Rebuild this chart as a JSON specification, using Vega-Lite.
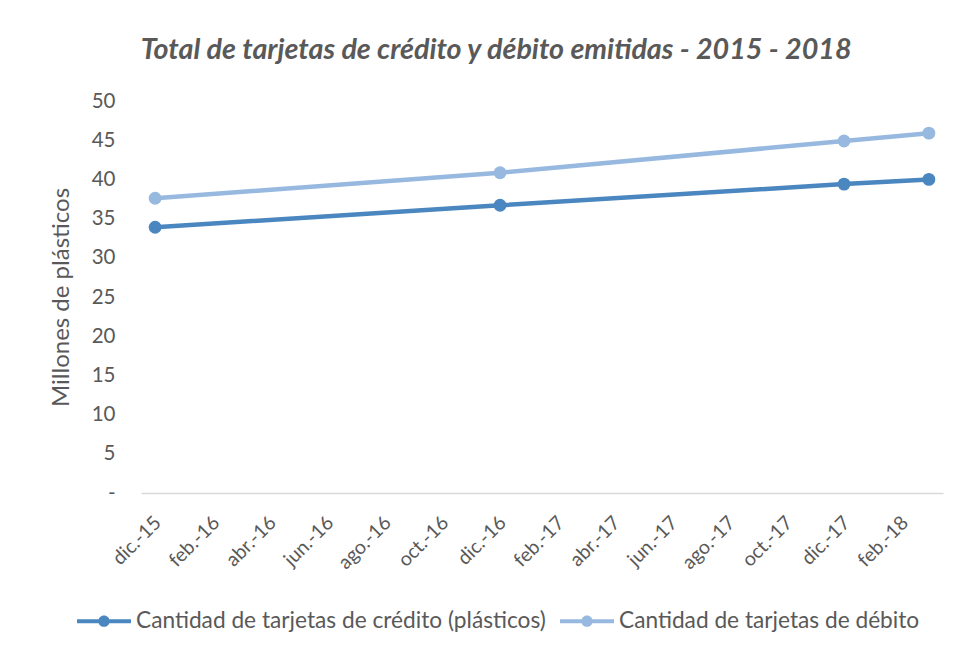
{
  "$schema": "https://vega.github.io/schema/vega-lite/v6.json",
  "width": 802,
  "height": 392,
  "autosize": {"type": "none"},
  "padding": {"left": 141, "top": 101, "right": 23, "bottom": 163},
  "background": "white",
  "title": {
    "text": "Total de tarjetas de crédito y débito emitidas - 2015 - 2018",
    "font": "Lato",
    "fontSize": 28.7,
    "fontStyle": "italic",
    "fontWeight": "bold",
    "color": "#595959",
    "frame": "bounds",
    "anchor": "middle",
    "offset": 26
  },
  "data": {
    "values": [
      {"fecha": "2015-12-01", "serie": "Cantidad de tarjetas de crédito (plásticos)", "valor": 33.9},
      {"fecha": "2016-12-01", "serie": "Cantidad de tarjetas de crédito (plásticos)", "valor": 36.7},
      {"fecha": "2017-12-01", "serie": "Cantidad de tarjetas de crédito (plásticos)", "valor": 39.4},
      {"fecha": "2018-03-01", "serie": "Cantidad de tarjetas de crédito (plásticos)", "valor": 40.0},
      {"fecha": "2015-12-01", "serie": "Cantidad de tarjetas de débito", "valor": 37.6},
      {"fecha": "2016-12-01", "serie": "Cantidad de tarjetas de débito", "valor": 40.85},
      {"fecha": "2017-12-01", "serie": "Cantidad de tarjetas de débito", "valor": 44.9},
      {"fecha": "2018-03-01", "serie": "Cantidad de tarjetas de débito", "valor": 45.9}
    ]
  },
  "encoding": {
    "x": {
      "field": "fecha",
      "type": "temporal",
      "scale": {
        "type": "utc",
        "domain": [
          {"year": 2015, "month": 11, "date": 16, "utc": true},
          {"year": 2018, "month": 3, "date": 16, "utc": true}
        ]
      },
      "axis": {
        "title": null,
        "values": [
          {"year": 2015, "month": 12, "date": 1, "utc": true},
          {"year": 2016, "month": 2, "date": 1, "utc": true},
          {"year": 2016, "month": 4, "date": 1, "utc": true},
          {"year": 2016, "month": 6, "date": 1, "utc": true},
          {"year": 2016, "month": 8, "date": 1, "utc": true},
          {"year": 2016, "month": 10, "date": 1, "utc": true},
          {"year": 2016, "month": 12, "date": 1, "utc": true},
          {"year": 2017, "month": 2, "date": 1, "utc": true},
          {"year": 2017, "month": 4, "date": 1, "utc": true},
          {"year": 2017, "month": 6, "date": 1, "utc": true},
          {"year": 2017, "month": 8, "date": 1, "utc": true},
          {"year": 2017, "month": 10, "date": 1, "utc": true},
          {"year": 2017, "month": 12, "date": 1, "utc": true},
          {"year": 2018, "month": 2, "date": 1, "utc": true}
        ],
        "labelExpr": "['ene.','feb.','mar.','abr.','may.','jun.','jul.','ago.','sep.','oct.','nov.','dic.'][utcmonth(datum.value)] + '-' + utcFormat(datum.value, '%y')",
        "labelAngle": -45,
        "labelFont": "Lato",
        "labelFontSize": 19.5,
        "labelColor": "#595959",
        "labelPadding": 20,
        "labelOffset": -4,
        "labelOverlap": false,
        "labelFlush": false,
        "ticks": false,
        "grid": false,
        "domainColor": "#D9D9D9",
        "domainWidth": 1.3
      }
    },
    "y": {
      "field": "valor",
      "type": "quantitative",
      "scale": {"domain": [0, 50], "nice": false},
      "axis": {
        "title": "Millones de plásticos",
        "titleFont": "Lato",
        "titleFontSize": 24,
        "titleFontWeight": "normal",
        "titleColor": "#595959",
        "titlePadding": 18,
        "values": [0, 5, 10, 15, 20, 25, 30, 35, 40, 45, 50],
        "labelExpr": "datum.value === 0 ? '-' : datum.label",
        "labelFont": "Lato",
        "labelFontSize": 20.5,
        "labelColor": "#595959",
        "labelPadding": 26,
        "domain": false,
        "ticks": false,
        "grid": false
      }
    },
    "color": {
      "field": "serie",
      "type": "nominal",
      "scale": {
        "domain": ["Cantidad de tarjetas de crédito (plásticos)", "Cantidad de tarjetas de débito"],
        "range": ["#4A86BF", "#97B9E0"]
      },
      "legend": {
        "title": null,
        "orient": "none",
        "legendX": -64,
        "legendY": 493,
        "direction": "horizontal",
        "labelFont": "Lato",
        "labelFontSize": 22.7,
        "labelColor": "#595959",
        "labelLimit": 700,
        "labelOffset": 5,
        "columnPadding": 14,
        "symbolType": "M-1,-0.075H1V0.075H-1Z M0.21,0A0.21,0.21,0,1,1,-0.21,0A0.21,0.21,0,1,1,0.21,0Z",
        "symbolSize": 2916,
        "symbolStrokeWidth": 0,
        "encode": {
          "symbols": {
            "update": {
              "fill": {"scale": "color", "field": "value"},
              "opacity": {"value": 1}
            }
          }
        }
      }
    }
  },
  "layer": [
    {"mark": {"type": "line", "strokeWidth": 4.5}},
    {"mark": {"type": "point", "filled": true, "size": 165, "opacity": 1}}
  ],
  "config": {"view": {"stroke": null}}
}
